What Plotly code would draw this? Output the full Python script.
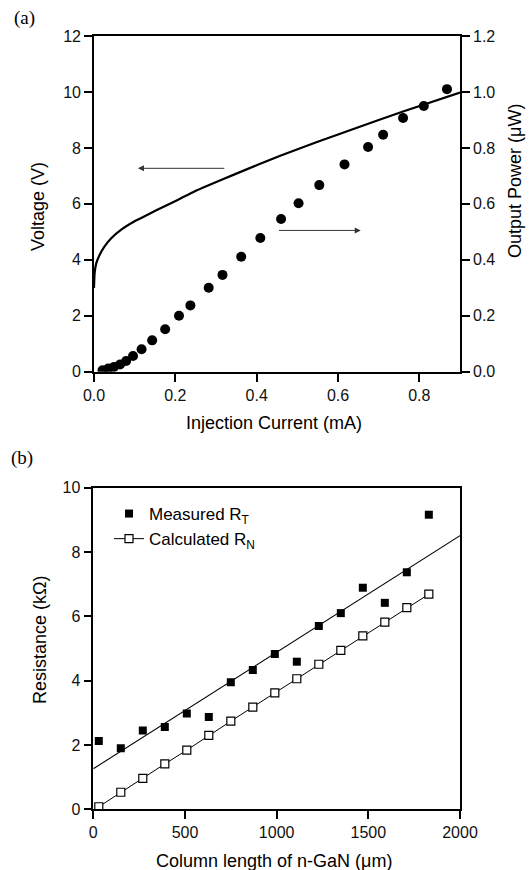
import plotly.graph_objects as go

# (a) L-I-V data of the LED
current_mA = [0.021, 0.035, 0.049, 0.064, 0.079, 0.096, 0.117, 0.143, 0.175, 0.209, 0.237, 0.282,
              0.316, 0.362, 0.409, 0.460, 0.503, 0.554, 0.616, 0.674, 0.711, 0.760, 0.811, 0.868]
power_uW = [0.005, 0.011, 0.017, 0.026, 0.038, 0.056, 0.080, 0.112, 0.152, 0.200, 0.237, 0.300,
            0.346, 0.411, 0.478, 0.546, 0.602, 0.667, 0.741, 0.803, 0.847, 0.907, 0.950, 1.010]
iv_current = [0, 0.0016, 0.0057, 0.014, 0.026, 0.043, 0.067, 0.10, 0.133, 0.166, 0.207, 0.248,
              0.276, 0.35, 0.458, 0.55, 0.65, 0.76, 0.9]
iv_voltage = [2.99, 3.53, 3.88, 4.18, 4.48, 4.78, 5.08, 5.38, 5.62, 5.86, 6.15, 6.45,
              6.63, 7.08, 7.72, 8.22, 8.74, 9.30, 9.98]
# arrows telling which axis belongs to which curve: (tail x, head x, y on voltage axis)
arrow_left = (0.324, 0.108, 7.27)
arrow_right = (0.451, 0.656, 5.05)

# (b) resistance vs n-GaN column length
length_um = [30, 150, 270, 390, 510, 630, 750, 870, 990, 1110, 1230, 1350, 1470, 1590, 1710, 1830]
rt_kohm = [2.12, 1.90, 2.45, 2.56, 2.98, 2.87, 3.95, 4.33, 4.83, 4.59, 5.70, 6.10, 6.89, 6.42, 7.37, 9.16]
rn_kohm = [0.08, 0.53, 0.96, 1.41, 1.84, 2.30, 2.74, 3.18, 3.62, 4.06, 4.51, 4.94, 5.39, 5.82, 6.27, 6.69]
fit_x = [0, 2000]
fit_y = [1.26, 8.51]

W, H = 532, 870
SANS = "Liberation Sans, Arial, sans-serif"
SERIF = "Liberation Serif, Times New Roman, serif"


def px_x(p):
    return p / W


def px_y(p):
    # pixel row from the top -> paper coordinate
    return 1 - p / H


def axis_style(**kw):
    base = dict(showline=True, linecolor="black", linewidth=1.6, mirror=True,
                ticks="outside", ticklen=8, tickwidth=1.5, tickcolor="black",
                showgrid=False, zeroline=False, automargin=False,
                tickfont=dict(family=SANS, size=16, color="#111"))
    base.update(kw)
    return base


def build_figure():
    fig = go.Figure()

    # top panel
    fig.add_trace(go.Scatter(x=iv_current, y=iv_voltage, mode="lines",
                             line=dict(color="black", width=2.2, shape="spline", smoothing=0.5),
                             xaxis="x", yaxis="y", showlegend=False))
    fig.add_trace(go.Scatter(x=current_mA, y=power_uW, mode="markers",
                             marker=dict(symbol="circle", size=10, color="black"),
                             xaxis="x", yaxis="y2", showlegend=False))

    # bottom panel
    fig.add_trace(go.Scatter(x=length_um, y=rt_kohm, mode="markers", name="Measured R<sub>T</sub>",
                             marker=dict(symbol="square", size=8, color="black"),
                             xaxis="x3", yaxis="y3"))
    fig.add_trace(go.Scatter(x=length_um, y=rn_kohm, mode="lines+markers", name="Calculated R<sub>N</sub>",
                             line=dict(color="black", width=1),
                             marker=dict(symbol="square", size=8, color="white",
                                         line=dict(color="black", width=1.2)),
                             xaxis="x3", yaxis="y3"))
    fig.add_trace(go.Scatter(x=fit_x, y=fit_y, mode="lines", line=dict(color="black", width=1.1),
                             xaxis="x3", yaxis="y3", showlegend=False))

    top = [px_y(371.7), px_y(36)]
    bottom = [px_y(809.3), px_y(487.7)]

    fig.update_layout(
        width=W, height=H,
        margin=dict(l=0, r=0, t=0, b=0),
        paper_bgcolor="white", plot_bgcolor="white",
        xaxis=axis_style(domain=[px_x(94), px_x(460)], range=[0, 0.9],
                         tickvals=[0, 0.2, 0.4, 0.6, 0.8], tickformat=".1f", anchor="y"),
        yaxis=axis_style(domain=top, range=[0, 12], dtick=2, anchor="x"),
        yaxis2=axis_style(overlaying="y", side="right", range=[0, 1.2], dtick=0.2,
                          tickformat=".1f", anchor="x"),
        xaxis3=axis_style(domain=[px_x(93.3), px_x(460)], range=[0, 2000], dtick=500, anchor="y3"),
        yaxis3=axis_style(domain=bottom, range=[0, 10], dtick=2, anchor="x3"),
        legend=dict(x=px_x(109), y=px_y(496), xanchor="left", yanchor="top",
                    font=dict(family=SANS, size=17, color="black"),
                    bgcolor="rgba(0,0,0,0)", tracegroupgap=0),
    )

    # panel labels and axis titles
    notes = [
        ("(a)", 24, 18, 0, SERIF, 19),
        ("(b)", 22, 458, 0, SERIF, 19),
        ("Voltage (V)", 38, 207, -90, SANS, 18),
        ("Output Power (μW)", 515, 181, -90, SANS, 18),
        ("Injection Current (mA)", 274, 423, 0, SANS, 18),
        ("Resistance (kΩ)", 40, 640, -90, SANS, 18),
        ("Column length of n-GaN (μm)", 274, 861, 0, SANS, 18),
    ]
    for text, x, y, ang, fam, size in notes:
        fig.add_annotation(text=text, x=px_x(x), y=px_y(y), xref="paper", yref="paper",
                           showarrow=False, textangle=ang, xanchor="center", yanchor="middle",
                           font=dict(family=fam, size=size, color="black"))

    # the two arrows in panel (a)
    for tail, head, yv in (arrow_left, arrow_right):
        fig.add_annotation(x=head, y=yv, ax=tail, ay=yv, xref="x", yref="y", axref="x", ayref="y",
                           text="", showarrow=True, arrowhead=2, arrowsize=1.2, arrowwidth=1,
                           arrowcolor="#333")
    return fig


if __name__ == "__main__":
    fig = build_figure()
    # drop the browser's default body margin so the 532x870 figure fills the window exactly
    fig.write_html("out.html", config={"displayModeBar": False},
                   post_script="document.body.style.margin = '0';")
